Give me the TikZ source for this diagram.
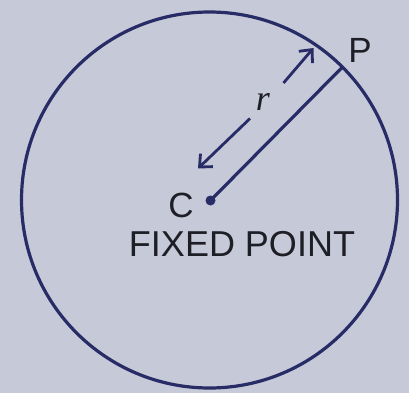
\documentclass[tikz,border=0pt]{standalone}
\usepackage{fontspec}
\setmainfont{Liberation Sans}
\newfontfamily\serifit{Liberation Serif}
\usetikzlibrary{arrows.meta}
\definecolor{bg}{RGB}{198,201,216}
\definecolor{ink}{RGB}{40,44,102}
\definecolor{txt}{RGB}{30,30,38}
\begin{document}
\begin{tikzpicture}[x=1pt,y=-1pt,
  radline/.style={draw=ink, line width=3.2pt},
  arr/.style={draw=ink, line width=2.8pt, -{Straight Barb[length=10pt,width=18pt,line width=2.8pt]}},
  lbl/.style={text=txt, font=\fontsize{35}{38}\selectfont, inner sep=0pt}]
\fill[bg] (0,0) rectangle (409,393);
\useasboundingbox (0,0) rectangle (409,393);
\node[circle, draw=ink, line width=3.2pt, minimum size=376pt, inner sep=0pt] (circ) at (209.5,200) {};
\node[circle, fill=ink, inner sep=0pt, minimum size=10pt] (C) at (210.5,200.5) {};
\coordinate (P) at (342.5,67);
\draw[radline] (C.center) -- (P);
\coordinate (lo) at (198,168.5);
\coordinate (hi) at (313.5,48);
\coordinate (ga) at (250,118.5);
\coordinate (gb) at (283.5,83);
\draw[arr] (gb) -- (hi);
\draw[arr] (ga) -- (lo);
\node[text=txt, font=\serifit\itshape\fontsize{36}{40}\selectfont, inner sep=0pt] (r) at (263,102) {r};
\node[lbl] (Clab) at (181,205) {C};
\node[lbl] (Plab) at (360,50) {P};
\node[lbl, font=\fontsize{36}{38}\selectfont] (fixed) at (242,244) {FIXED POINT};
\end{tikzpicture}
\end{document}
